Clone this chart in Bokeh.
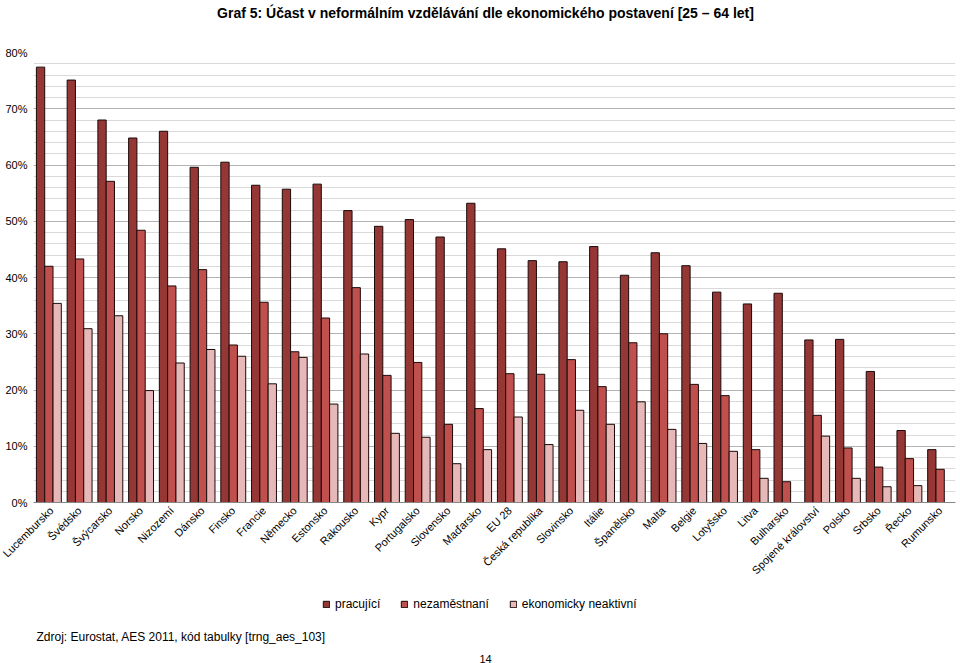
from math import pi
from bokeh.plotting import figure
from bokeh.layouts import column
from bokeh.models import (ColumnDataSource, FactorRange, FixedTicker, Legend, LegendItem, Label,
                          Range1d)
from bokeh.transform import dodge
from bokeh.embed import file_html
from bokeh.resources import INLINE

countries = ["Lucembursko", "Švédsko", "Švýcarsko", "Norsko", "Nizozemí", "Dánsko", "Finsko",
             "Francie", "Německo", "Estonsko", "Rakousko", "Kypr", "Portugalsko", "Slovensko",
             "Maďarsko", "EU 28", "Česká republika", "Slovinsko", "Itálie", "Španělsko", "Malta",
             "Belgie", "Lotyšsko", "Litva", "Bulharsko", "Spojené království", "Polsko", "Srbsko",
             "Řecko", "Rumunsko"]
pracujici = [77.4, 75.1, 68.0, 64.8, 66.0, 59.6, 60.5, 56.4, 55.7, 56.6, 51.9, 49.1, 50.3, 47.2,
             53.2, 45.1, 43.0, 42.8, 45.5, 40.4, 44.4, 42.1, 37.4, 35.3, 37.2, 28.9, 29.0, 23.3,
             12.8, 9.4]
nezamestnani = [42.0, 43.3, 57.1, 48.4, 38.5, 41.4, 28.0, 35.6, 26.8, 32.8, 38.2, 22.6, 24.9, 13.9,
                16.7, 22.9, 22.8, 25.4, 20.6, 28.4, 30.0, 21.0, 19.0, 9.4, 3.7, 15.5, 9.7, 6.3,
                7.8, 5.9]
neaktivni = [35.4, 30.9, 33.2, 19.9, 24.8, 27.2, 26.0, 21.1, 25.8, 17.5, 26.4, 12.3, 11.6, 6.9,
             9.4, 15.2, 10.3, 16.4, 13.9, 17.9, 13.0, 10.5, 9.1, 4.3, float("nan"), 11.8, 4.3, 2.8,
             3.0, float("nan")]
series_names = ["pracující", "nezaměstnaní", "ekonomicky neaktivní"]
y_ticks = [0, 10, 20, 30, 40, 50, 60, 70, 80]
y_tick_labels = ["0%", "10%", "20%", "30%", "40%", "50%", "60%", "70%", "80%"]
title_text = "Graf 5: Účast v neformálním vzdělávání dle ekonomického postavení [25 – 64 let]"
source_text = "Zdroj: Eurostat, AES 2011, kód tabulky [trng_aes_103]"
page_text = "14"

colors = ["#953735", "#C0504D", "#E6B9B8"]
FONT = "Liberation Sans"
OUTLINE = "#1a0a0a"
LEFT, RIGHT = 33, 5


def blank(h):
    # frame spans screen x from LEFT to 960-RIGHT, so data x equals page pixel x
    f = figure(width=960, height=h, x_range=Range1d(LEFT, 960 - RIGHT), y_range=Range1d(0, h),
               x_axis_location=None, y_axis_location=None, output_backend="svg",
               toolbar_location=None, min_border_left=LEFT, min_border_right=RIGHT,
               min_border_top=0, min_border_bottom=0)
    f.outline_line_color = None
    f.grid.visible = False
    return f


# header with the title
header = blank(30)
header.add_layout(Label(x=485, y=18, text=title_text, text_align="center", text_baseline="middle",
                        text_font=FONT, text_font_size="14px", text_font_style="bold",
                        text_color="#000000"))

# main chart
src = ColumnDataSource(dict(c=countries, a=pracujici, b=nezamestnani, d=neaktivni))
p = figure(width=960, height=555, x_range=FactorRange(*countries, range_padding=0),
           y_range=(0, 80), output_backend="svg", toolbar_location=None,
           min_border_left=LEFT, min_border_right=RIGHT, min_border_top=22, min_border_bottom=83)
p.outline_line_color = None

bw = 0.27
for col, off, colr in zip(["a", "b", "d"], [-bw, 0, bw], colors):
    p.vbar(x=dodge("c", off, range=p.x_range), top=col, bottom=0, width=bw, source=src,
           fill_color=colr, line_color=OUTLINE, line_width=1)

p.xgrid.grid_line_color = None
p.ygrid.grid_line_color = "#8c8c8c"
p.ygrid.grid_line_dash = "1 1"
p.ygrid.minor_grid_line_color = "#d9d9d9"
p.ygrid.minor_grid_line_width = 1

p.yaxis.ticker = FixedTicker(ticks=y_ticks, minor_ticks=list(range(0, 81, 2)))
p.yaxis.major_label_overrides = {t: l for t, l in zip(y_ticks, y_tick_labels)}
p.yaxis.axis_line_color = None
p.yaxis.major_tick_line_color = None
p.yaxis.minor_tick_line_color = None
p.yaxis.major_tick_out = 0
p.yaxis.minor_tick_out = 0
p.yaxis.major_label_text_font = FONT
p.yaxis.major_label_text_font_size = "11px"
p.yaxis.major_label_text_color = "#000000"
p.yaxis.major_label_standoff = 6

p.xaxis.axis_line_color = "#868686"
p.xaxis.major_tick_line_color = None
p.xaxis.minor_tick_line_color = None
p.xaxis.major_tick_out = 0
p.xaxis.minor_tick_out = 0
p.xaxis.major_label_orientation = pi / 4
p.xaxis.major_label_text_font = FONT
p.xaxis.major_label_text_font_size = "11px"
p.xaxis.major_label_text_color = "#000000"
p.xaxis.major_label_standoff = 6

# footer with legend, source and page number
footer = blank(78)
proxy = ColumnDataSource(dict(x=[0], top=[0]))
lr = [footer.vbar(x="x", top="top", width=1, source=proxy, fill_color=c, line_color=OUTLINE,
                  line_width=1, visible=False) for c in colors]
legend = Legend(items=[LegendItem(label=n, renderers=[r]) for n, r in zip(series_names, lr)],
                orientation="horizontal", location=(322 - LEFT, 52), border_line_color=None,
                background_fill_alpha=0, glyph_width=8, glyph_height=8, label_standoff=5,
                spacing=20, padding=0, margin=0, label_text_font=FONT,
                label_text_font_size="12px", label_height=12, label_text_color="#000000",
                inactive_fill_alpha=0)
footer.add_layout(legend)
footer.add_layout(Label(x=36, y=27, text=source_text, text_align="left", text_baseline="middle",
                        text_font=FONT, text_font_size="12px", text_color="#000000"))
footer.add_layout(Label(x=485, y=5, text=page_text, text_align="center", text_baseline="middle",
                        text_font=FONT, text_font_size="11px", text_color="#000000"))

layout = column(header, p, footer, spacing=0)
open("out.html", "w").write(file_html(layout, INLINE))
